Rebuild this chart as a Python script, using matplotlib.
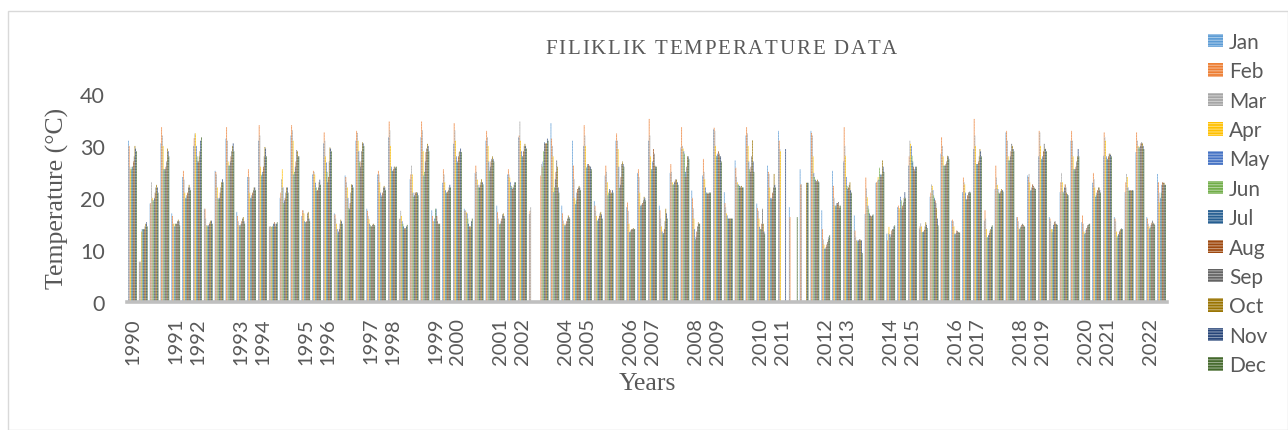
import numpy as np
import matplotlib.pyplot as plt
from matplotlib.patches import Rectangle

plt.rcParams['hatch.linewidth'] = 0.8

nan = np.nan

months = ['Jan', 'Feb', 'Mar', 'Apr', 'May', 'Jun', 'Jul', 'Aug', 'Sep', 'Oct', 'Nov', 'Dec']
colors = ['#5B9BD5', '#ED7D31', '#A5A5A5', '#FFC000', '#4472C4', '#70AD47',
          '#255E91', '#9E480E', '#636363', '#997300', '#264478', '#43682B']

# 96 category rows (3 rows per year, 2003 absent), one list per month
jan = [31, 7.7, 18.9, 30.5, 17, 24, 30, 17.9, 25.2, 31.4, 17.3, 24,
       31, 14.4, 20, 32, 16.5, 24.5, 30.5, 17, 24.3, 31, 17.9, 24.5,
       31.7, 15.9, 23.6, 31.7, 17.6, 22.9, 30.4, 17.9, 24.8, 31, 18.5, 24.5,
       31.7, 16.9, nan, 34.4, 18.5, 31, 30, 19.4, 24.3, 31, 18.2, 24.8,
       31, 18.5, 24.8, 29.7, 21.4, 24.3, 33.2, 21.1, 27.2, 32, 18.9, 26.2,
       32.9, 18.2, 25.5, 32.9, 17.6, 25.2, 27, 16.6, 16.9, 22.9, 13.1, 18.2,
       26.2, 14.1, 20.2, 28.5, 15.6, 21.1, 29.4, 15.6, 21.7, 32.6, 16.3, 24.3,
       28, 16.3, 21.1, 31, 15.3, 22.9, 28.1, 16.3, 21.1, 28.8, 16.3, 24.6]
feb = [30, 7.7, 19, 33.6, 16.5, 25.2, 31.5, 17.9, 25, 33.6, 16.5, 25.5,
       34, 14.5, 21, 34, 17.6, 25.2, 32.6, 16.8, 24, 32.9, 17.5, 25.2,
       34.7, 16, 24.5, 34.7, 16.5, 25.5, 34.4, 17.5, 26.2, 32.9, 17.3, 25.5,
       32, 17.5, 24.3, 31.4, 17, 26.2, 34, 18.5, 26.2, 32.4, 19.1, 25.5,
       35.2, 17.6, 26.5, 33.6, 20, 27.5, 33.5, 19, 25.8, 33.6, 18, 25,
       31, 16.3, 22.6, 32.5, 14, 22.3, 33.6, 13.7, 23.9, 23, 11.8, 18.5,
       28, 14.5, 21, 31.7, 15.8, 23.9, 35.2, 17.6, 26.2, 32.9, 16.3, 24,
       32.9, 16, 23, 32.9, 16.6, 24.8, 32.6, 16, 23, 32.6, 16, 23]
mar = [26, 7.7, 23, 32, 15, 23.5, 32.4, 16, 24.5, 31, 15.5, 24,
       32, 14.5, 23.6, 33, 17.6, 25, 31, 16, 23, 32.5, 16.5, 24.5,
       33, 17.5, 26.2, 33, 15.5, 24.5, 33, 17.6, 25, 31.7, 16, 24.5,
       34.7, 18.2, 26.5, 30, 15.6, 23.6, 32, 17.5, 25, 31, 17.5, 24,
       32, 16, 25, 30, 18, 25, 32.9, 18.2, 24, 32.4, 17.5, 24.6,
       29.4, nan, 22.6, 32, 12, 20, 30, 12.5, 21.8, 23.3, 13.2, 17.9,
       31, 15.1, 22.6, 30, 15.5, 23, 32, 16, 23.9, 31, 15.5, 24.6,
       32.6, 15.5, 24.8, 31, 15, 23.6, 31.7, 15.5, 24.6, 31, 15, 21]
apr = [25.5, 13.5, 20, 30, 15, 21, 32.4, 14.7, 22, 27, 14.7, 21,
       26, 14.4, 25.5, 31, 17, 24.5, 28, 15, 22, 31, 15.9, 23,
       30, 16.5, 24.5, 29, 15.5, 23, 31, 17.2, 23.5, 30, 15, 23.9,
       31, nan, 26, 28, 15, 20, 30, 16.5, 23, 29.4, 15, 21,
       28, 14.5, 23, 29.5, 16, 23.6, 30, 17, 23, 30, 16, 22,
       29, nan, nan, 28, 11, 18.5, 28.1, 11.8, 20.1, 24, 14.4, 18,
       30.4, 14.5, 22.3, 28, 14.5, 22.6, 30, 14, 22.5, 28, 14.1, 23,
       30, 14, 23, 28, 13.5, 22, 31, 13.5, 24, 30, 14.5, 19.1]
may = [25.5, 14, 19.5, 25.5, 14.5, 20, 30, 14.7, 20, 26.2, 14.7, 20,
       24.3, 14.4, 22, 24.5, 15.5, 22.9, 26.8, 14, 20, 29, 15, 21,
       26, 15.5, 21, 24.3, 16, 21.5, 28, 17, 22.5, 27, 14.9, 23,
       29, nan, 27, 21.1, 14.7, 18.8, 25.8, 15.6, 20.5, 26, 13.4, 18.5,
       25.5, 13.5, 22.5, 29, 14, 22, 28.1, 16.6, 22.6, 27, 14.4, 20,
       nan, nan, nan, 24.8, 10.2, 18.5, 24, 11.8, 18.5, 23.5, 13, 20.2,
       30, 13.4, 21.5, 26.2, 13.1, 21, 26.5, 12.4, 21.7, 27.2, 14, 21.4,
       27.5, 13.4, 21.2, 25.5, 13.1, 20.2, 28, 12.4, 22, 29.7, 14.1, 20]
jun = [26, 14, 19.5, 25.5, 15, 20, 28, 14.5, 19.7, 26.2, 14.7, 20,
       24.5, 14.6, 19, 25, 15.3, 22, 25, 13.1, 18, 27, 14.7, 20.2,
       25.2, 15, 20.2, 25, 17.9, 21, 26.8, 16, 22, 25.2, 15, 22.3,
       28, nan, 29, 22, 14.7, 19.5, 26, 15.6, 21, 21.9, 13.5, 18.5,
       25.5, 13.1, 22.6, 28.5, 12, 21, 28, 16, 22.5, 25.5, 14, 19.7,
       nan, nan, nan, 24, 10.2, 18.5, 22.3, 11.5, 17.9, 25.8, 12.5, 19.5,
       28.1, 13.4, 20.5, 26.2, 13, 19.7, 26.5, 12.4, 21, 27.2, 14.3, 21.5,
       27.5, 14, 21, 25.5, 13.2, 20.5, 27.5, 12.7, 21.4, 29.7, 14.3, 21]
jul = [26, 14, 20, 25.5, 15, 20.5, 27, 14.7, 20, 27, 15, 20.5,
       25, 15, 19.5, 26, 15.3, 21.3, 23, 13.5, 17.9, 26, 14.5, 20.5,
       25.2, 14.5, 20.5, 27, 17.9, 21, 27, 15, 22, 26, 15.5, 22,
       28, nan, 30.7, 23.6, 15, 21, 26.5, 16, 21.7, 22.5, 13.8, 18.7,
       27, 13.2, 23, 25, 12.5, 21, 28.5, 16, 22.3, 25, 14, 20,
       nan, nan, nan, 23.5, 10.5, 19, 21.7, 11.8, 17, 24.5, 13, 17.9,
       27, 13.5, 20, 26.2, 13.2, 19.7, 26.5, 12.8, 20.8, 28, 14.5, 22,
       28, 14.8, 22, 25.5, 13.8, 21, 27.5, 13, 21.4, 30, 14.8, 22.5]
aug = [27, 14, 21, 26, 15, 21, 27, 15, 21, 28, 15.5, 21,
       26, 15.3, 20, 27, 15.5, 21.5, 24, 14, 19, 27, 14.5, 21,
       25.5, 14.1, 21, 28.8, 16.5, 21.2, 28, 14.5, 22.5, 27, 16, 21.7,
       29, nan, 30.5, 25, 15.5, 21.7, 26.5, 16.5, 21.5, 24, 14, 19,
       29.4, 14, 23.3, 24, 13.5, 20.8, 29, 16, 22, 26, 15, 21,
       nan, nan, nan, 23.2, 11, 19, 22, 12, 16.6, 24, 13.7, 18.5,
       26, 13.8, 19.5, 26.5, 13.7, 20.5, 27, 13.2, 21, 29, 14.8, 22.6,
       29, 15.3, 22.6, 26, 14.2, 21.5, 28, 13.5, 21.5, 30.5, 15.2, 23]
sep = [28, 14.5, 22, 27, 15.5, 22, 28, 15.3, 22, 29, 16, 21.5,
       28, 15, 21, 29.2, 17, 22, 27, 15, 21, 29, 14.8, 22,
       26, 14.2, 21, 29.5, 15.5, 21.5, 28.8, 14.1, 23, 27.5, 16.8, 22,
       30, nan, 30.4, 27.2, 16, 22, 26.2, 17, 20.8, 26.5, 14, 19.5,
       28.5, 15.5, 23.6, 26, 14.5, 20.8, 28.5, 16, 22.2, 28, 17.9, 22,
       nan, nan, nan, 23.2, 11.5, 19.2, 22.5, 12, 16.5, 24.5, 14, 19.1,
       25.5, 14.5, 19, 27, 13.6, 21, 28, 13.7, 21.3, 30.4, 15, 22.3,
       30.4, 15.5, 22, 27, 14.7, 22, 28.5, 13.7, 21.4, 30.7, 15.6, 22.9]
oct_ = [30, 15, 22.5, 29.5, 15.8, 22.5, 29, 15.6, 23, 30, 16.3, 22,
        29.8, 14.5, 22, 29, 17.3, 23, 29.7, 15.8, 22.6, 30.7, 15, 22.3,
        26, 14.1, 21.1, 30.4, 15, 22, 29, 14.5, 23.6, 28, 17, 22.5,
        30.4, nan, 30.5, 26, 16.6, 22.3, 26, 17.3, 21, 27, 14.2, 20.2,
        26.2, 17.9, 23.5, 28, 15.3, 21, 28, 16, 22.3, 31.1, 15, 24.6,
        nan, nan, 22.9, 23.5, 12, 18.5, 23, 11.8, 16.4, 27.2, 14, 20,
        25.2, 15.3, 18, 28.1, 13.4, 21.1, 29.4, 14, 21.7, 30, 14.8, 22,
        29.5, 15, 21, 28, 14.8, 22, 28.5, 14, 21.4, 30.5, 15.2, 22.9]
nov = [29.5, 15.3, 22, 29, 15.5, 22, 31, 15.6, 23.6, 30.5, 15.5, 22,
       29.5, 15, 22, 28, 16, 23.5, 29.5, 15.5, 22.5, 30.5, 14.8, 22,
       25.8, 14.5, 21, 30, 14.9, 22.5, 29.5, 15.5, 23, 27.5, 16.5, 23,
       30, nan, 31.4, 22, 16.3, 22, 26, 16.8, 21.5, 26.5, 14, 20,
       26, 17, 23, 28, 15, 21, 28, 16, 22, 27, 13.5, 22.5,
       29.4, nan, 22.9, 23.2, 12.5, 18, 21.5, 11.8, 16.6, 26, 14.5, 21.1,
       26, 14.8, 16, 28, 13.3, 21.2, 29, 14.4, 21.5, 29.4, 14.6, 21.8,
       29.4, 14.9, 20.7, 29.4, 14.9, 21.5, 28.3, 14.1, 21.5, 30, 15, 22.5]
dec = [29, 14.5, 21, 28, 14.7, 21.5, 31.7, 15, 23, 29, 15, 21.5,
       28, 15.3, 21, 28, 15.5, 22.5, 29, 15, 22, 30, 14.7, 21.5,
       26, 14.8, 20.5, 29, 15, 22, 28.8, 16, 22.6, 27, 16, 23,
       29.5, nan, 31, 21, 16, 21.5, 25.5, 16, 21, 26, 14, 19.5,
       26, 16, 22.5, 27.5, 15, 21, 27, 16, 22, 25, 13.1, 22,
       nan, 16.3, 22.9, 23, 12.8, 18.5, 21, 9.4, 16.8, 25, 14.7, 20,
       26, 14.2, 14.7, 27.5, 13.3, 21, 28, 14.7, 21.2, 29, 14.4, 21.7,
       29, 14.8, 20.5, 28, 15, 21, 28, 14, 21.4, 29.4, 14.8, 22.5]

# category labels shown by the axis (every second row)
tick_labels = ['1990', '', '1991', '1992', '', '1993', '1994', '', '1995', '1996', '',
               '1997', '1998', '', '1999', '2000', '', '2001', '2002', '',
               '2004', '2005', '', '2006', '2007', '', '2008', '2009', '',
               '2010', '2011', '', '2012', '2013', '', '2014', '2015', '',
               '2016', '2017', '', '2018', '2019', '', '2020', '2021', '', '2022']

series = [jan, feb, mar, apr, may, jun, jul, aug, sep, oct_, nov, dec]
txt = '#595959'

fig = plt.figure(figsize=(12.88, 4.31), dpi=100)
W, H = 1288, 431
ax = fig.add_axes([127 / W, 1 - 302.7 / H, (1167 - 127) / W, (302.7 - 95) / H])

x = np.arange(len(jan))
group = 0.8
w = group / 12
for i, vals in enumerate(series):
    bars = ax.bar(x - group / 2 + (i + 0.5) * w, vals, width=w, color=colors[i],
                  edgecolor=(1, 1, 1, 0.45), linewidth=0, hatch='------', label=months[i])
    for b in bars:
        b.set_snap(False)

ax.set_xlim(-0.5, len(jan) - 0.5)
ax.set_ylim(0, 40)
ax.set_yticks([0, 10, 20, 30, 40])
ax.set_xticks(np.arange(0, len(jan), 2))
ax.set_xticklabels(tick_labels, rotation=90, family='Lato', fontsize=14.5, color=txt)
for lab in ax.get_yticklabels():
    lab.set_family('Lato')
    lab.set_fontsize(15.5)
    lab.set_color(txt)
ax.tick_params(axis='both', length=0)
ax.tick_params(axis='y', pad=16)
ax.tick_params(axis='x', pad=11)
for s in ['top', 'right', 'left']:
    ax.spines[s].set_visible(False)
ax.spines['bottom'].set_color('#BFBFBF')
ax.spines['bottom'].set_linewidth(2.6)

ax.set_ylabel('Temperature (°C)', family='Liberation Serif', fontsize=18.5, color=txt, labelpad=8)
ax.set_xlabel('Years', family='Liberation Serif', fontsize=18.5, color=txt, labelpad=6)

# title with wide letter spacing, placed one character at a time
title = 'FILIKLIK TEMPERATURE DATA'
renderer = fig.canvas.get_renderer()
xpx = 545
for ch in title:
    t = fig.text(xpx / W, 1 - 50 / H, ch, family='Liberation Serif', fontsize=15,
                 color=txt, ha='left', va='center')
    adv = t.get_window_extent(renderer).width if ch != ' ' else 5.2
    xpx += adv + 1.8

fig.legend(loc='upper left', bbox_to_anchor=(1208 / W, 1 - 33 / H), frameon=False,
           prop={'family': 'Lato', 'size': 15}, labelcolor=txt,
           handlelength=0.72, handleheight=0.62, handletextpad=0.3,
           labelspacing=0.45, borderaxespad=0, borderpad=0)

fig.add_artist(Rectangle((8 / W, 0), 1 - 8 / W, 1 - 12 / H, transform=fig.transFigure,
                         fill=False, edgecolor='#D9D9D9', linewidth=1))

fig.savefig('out.png', dpi=100)
